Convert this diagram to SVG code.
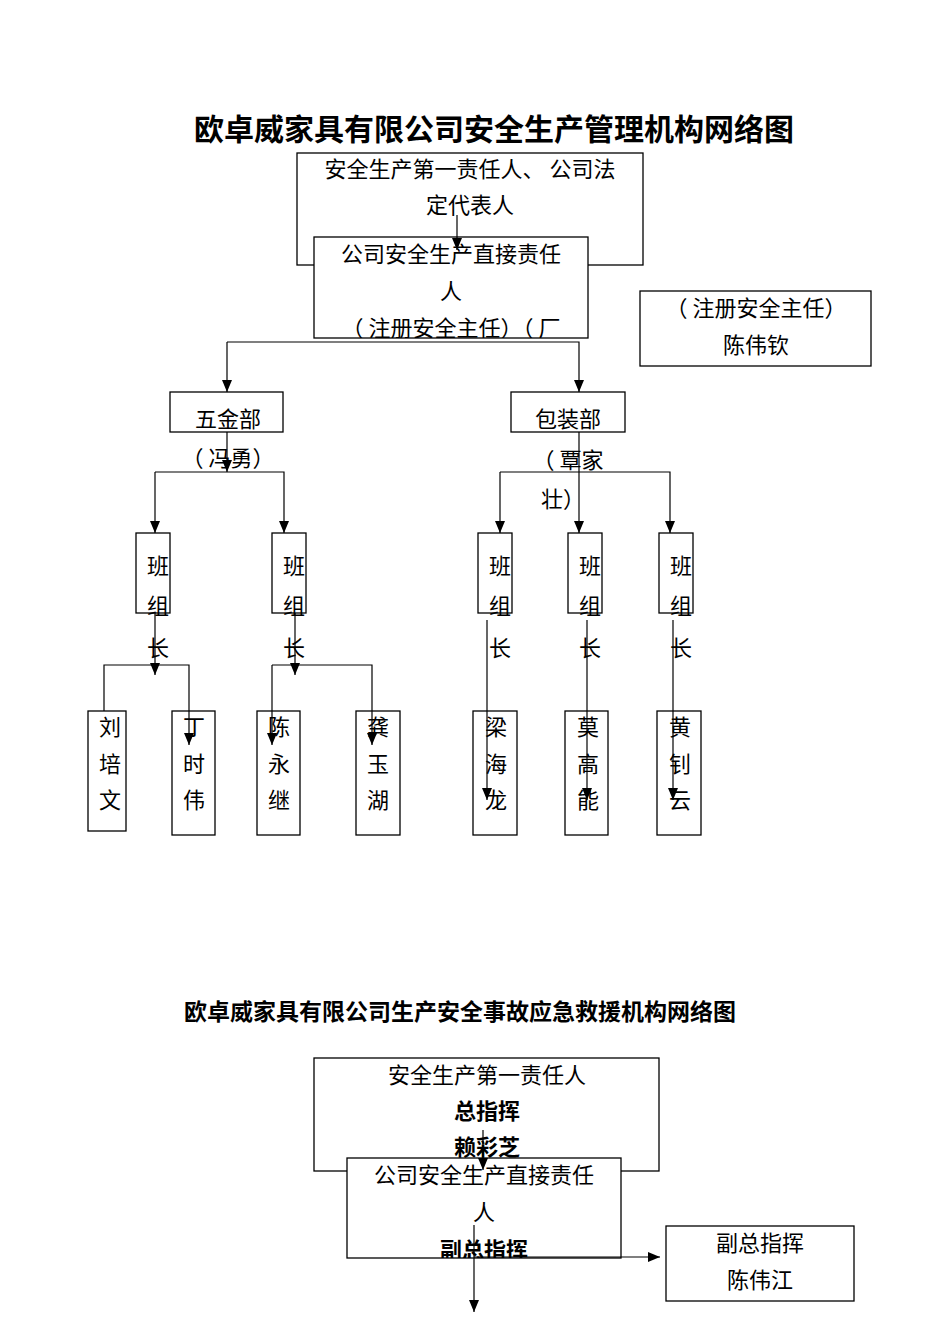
<svg xmlns="http://www.w3.org/2000/svg" width="950" height="1344" viewBox="0 0 950 1344">
<style>
.b{fill:#fff;stroke:#000;stroke-width:1.3}
.t{font-family:"Noto Sans CJK SC","Liberation Sans",sans-serif;font-size:22px;fill:#000;text-anchor:middle;dominant-baseline:middle}
.h{font-family:"Noto Sans CJK SC",sans-serif;font-weight:bold;fill:#000;text-anchor:middle}
.c{fill:none;stroke:#000;stroke-width:1.2}
</style>
<defs>
<marker id="a" markerWidth="12" markerHeight="10" refX="12" refY="5" orient="auto" markerUnits="userSpaceOnUse" viewBox="0 0 12 10"><path d="M0,0L12,5L0,10z" fill="#000"/></marker>
<clipPath id="c2"><rect x="314" y="237" width="274" height="101"/></clipPath>
<clipPath id="c3"><rect x="347" y="1158" width="274" height="100"/></clipPath>
</defs>
<text class="h" x="494" y="140" font-size="30">欧卓威家具有限公司安全生产管理机构网络图</text>
<g id="n1"><rect class="b" x="297" y="153" width="346" height="112"/>
<text class="t" x="470" y="171">安全生产第一责任人、 公司法</text><text class="t" x="470" y="207">定代表人</text></g>
<g id="n2"><rect class="b" x="314" y="237" width="274" height="101"/>
<g clip-path="url(#c2)"><text class="t" x="451" y="256">公司安全生产直接责任</text><text class="t" x="451" y="293">人</text><text class="t" x="451" y="330">（ 注册安全主任）（ 厂</text></g></g>
<g id="n3"><rect class="b" x="640" y="291" width="231" height="75"/><text class="t" x="756" y="310">（ 注册安全主任）</text><text class="t" x="756" y="347">陈伟钦</text></g>
<g id="n4"><rect class="b" x="170" y="392" width="113" height="40"/><text class="t" x="228" y="421">五金部</text><text class="t" x="228" y="460">（ 冯勇）</text></g>
<g id="n5"><rect class="b" x="511" y="392" width="114" height="40"/><text class="t" x="568" y="421">包装部</text><text class="t" x="568" y="462">（ 覃家</text><text class="t" x="563" y="501">壮）</text></g>
<g id="g1"><rect class="b" x="136" y="533" width="34" height="80"/><text class="t" x="158" y="568">班</text><text class="t" x="158" y="608">组</text><text class="t" x="158" y="650">长</text></g>
<g id="g2"><rect class="b" x="272" y="533" width="34" height="80"/><text class="t" x="294" y="568">班</text><text class="t" x="294" y="608">组</text><text class="t" x="294" y="650">长</text></g>
<g id="g3"><rect class="b" x="478" y="533" width="34" height="80"/><text class="t" x="500" y="568">班</text><text class="t" x="500" y="608">组</text><text class="t" x="500" y="650">长</text></g>
<g id="g4"><rect class="b" x="568" y="533" width="34" height="80"/><text class="t" x="590" y="568">班</text><text class="t" x="590" y="608">组</text><text class="t" x="590" y="650">长</text></g>
<g id="g5"><rect class="b" x="659" y="533" width="34" height="80"/><text class="t" x="681" y="568">班</text><text class="t" x="681" y="608">组</text><text class="t" x="681" y="650">长</text></g>
<g id="p1"><rect class="b" x="88" y="711" width="38" height="120"/><text class="t" x="110" y="729">刘</text><text class="t" x="110" y="766">培</text><text class="t" x="110" y="802">文</text></g>
<g id="p2"><rect class="b" x="172" y="711" width="43" height="124"/><text class="t" x="194" y="729">丁</text><text class="t" x="194" y="766">时</text><text class="t" x="194" y="802">伟</text></g>
<g id="p3"><rect class="b" x="257" y="711" width="43" height="124"/><text class="t" x="279" y="729">陈</text><text class="t" x="279" y="766">永</text><text class="t" x="279" y="802">继</text></g>
<g id="p4"><rect class="b" x="356" y="711" width="44" height="124"/><text class="t" x="378" y="729">龚</text><text class="t" x="378" y="766">玉</text><text class="t" x="378" y="802">湖</text></g>
<g id="p5"><rect class="b" x="473" y="711" width="44" height="124"/><text class="t" x="496" y="729">梁</text><text class="t" x="496" y="766">海</text><text class="t" x="496" y="802">龙</text></g>
<g id="p6"><rect class="b" x="565" y="711" width="43" height="124"/><text class="t" x="588" y="729">莫</text><text class="t" x="588" y="766">高</text><text class="t" x="588" y="802">能</text></g>
<g id="p7"><rect class="b" x="657" y="711" width="44" height="124"/><text class="t" x="680" y="729">黄</text><text class="t" x="680" y="766">钊</text><text class="t" x="680" y="802">云</text></g>
<text class="h" x="460" y="1020" font-size="23">欧卓威家具有限公司生产安全事故应急救援机构网络图</text>
<g id="m1"><rect class="b" x="314" y="1058" width="345" height="113"/><text class="t" x="487" y="1077">安全生产第一责任人</text><text class="t" x="487" y="1113" font-weight="bold">总指挥</text><text class="t" x="487" y="1149" font-weight="bold">赖彩芝</text></g>
<g id="m2"><rect class="b" x="347" y="1158" width="274" height="100"/>
<g clip-path="url(#c3)"><text class="t" x="484" y="1177">公司安全生产直接责任</text><text class="t" x="484" y="1214">人</text><text class="t" x="484" y="1252" font-weight="bold">副总指挥</text></g></g>
<g id="m3"><rect class="b" x="666" y="1226" width="188" height="75"/><text class="t" x="760" y="1245">副总指挥</text><text class="t" x="760" y="1282">陈伟江</text></g>
<g id="connectors" class="c">
<path d="M457,215V250" marker-end="url(#a)"/>
<path d="M227,342V392" marker-end="url(#a)"/>
<path d="M227,342H579V392" marker-end="url(#a)"/>
<path d="M227,432V472" marker-end="url(#a)"/>
<path d="M155,472V533" marker-end="url(#a)"/>
<path d="M155,472H284V533" marker-end="url(#a)"/>
<path d="M579,432V533" marker-end="url(#a)"/>
<path d="M500,472V533" marker-end="url(#a)"/>
<path d="M500,472H670V533" marker-end="url(#a)"/>
<path d="M155,613V675" marker-end="url(#a)"/>
<path d="M104,711V665H189V745" marker-end="url(#a)"/>
<path d="M295,613V675" marker-end="url(#a)"/>
<path d="M272,665V745" marker-end="url(#a)"/>
<path d="M272,665H372V745" marker-end="url(#a)"/>
<path d="M487,620V800" marker-end="url(#a)"/>
<path d="M587,620V800" marker-end="url(#a)"/>
<path d="M673,620V800" marker-end="url(#a)"/>
<path d="M483,1130V1170" marker-end="url(#a)"/>
<path d="M474,1225V1312" marker-end="url(#a)"/>
<path d="M474,1257H660" marker-end="url(#a)"/>
</g>
</svg>
